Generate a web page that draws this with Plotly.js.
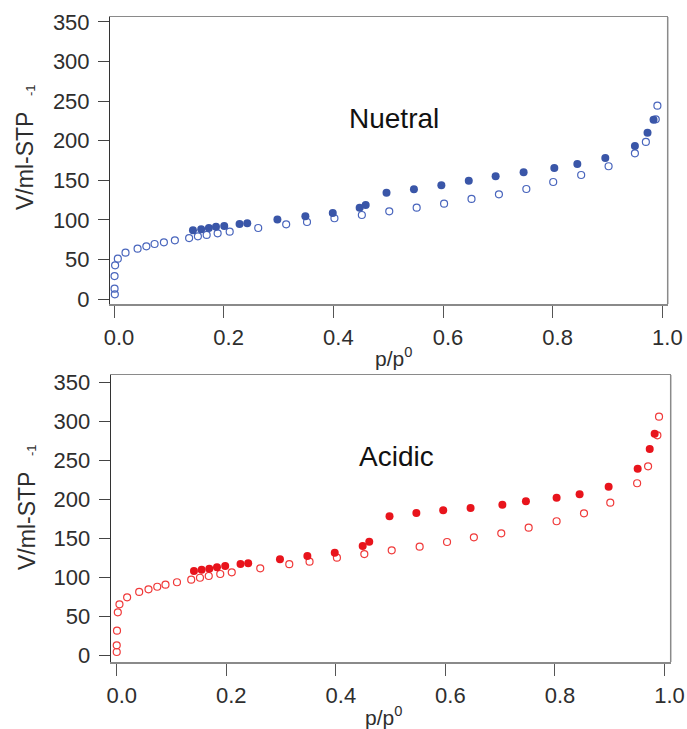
<!DOCTYPE html>
<html>
<head>
<meta charset="utf-8">
<script src="https://cdn.plot.ly/plotly-3.0.1.min.js"></script>
<style>html,body{margin:0;padding:0;background:#fff;}#chart{width:687px;height:729px;}</style>
</head>
<body>
<div id="chart"></div>
<script>
// ---- Data ----
var neutralAdsX = [0.0015, 0.001, 0.001, 0.002, 0.007, 0.021, 0.043, 0.059, 0.074, 0.091, 0.111, 0.137, 0.153, 0.169, 0.189, 0.211, 0.263,
  0.314, 0.352, 0.402, 0.452, 0.502, 0.552, 0.602, 0.652, 0.702, 0.752, 0.801, 0.852, 0.902, 0.950, 0.970, 0.988, 0.991];
var neutralAdsY = [5.9, 13.0, 29.0, 42.6, 51.0, 58.5, 63.6, 66.6, 69.5, 71.6, 74.1, 77.0, 79.2, 80.9, 83.0, 85.0, 89.7,
  94.4, 97.3, 102.0, 106.1, 110.8, 115.4, 120.4, 126.4, 132.3, 139.0, 147.8, 156.7, 167.7, 184.1, 198.4, 227.0, 244.3];
var neutralDesX = [0.144, 0.159, 0.173, 0.186, 0.201, 0.229, 0.243, 0.298, 0.349, 0.399, 0.448, 0.459, 0.497, 0.547, 0.597,
  0.647, 0.696, 0.747, 0.803, 0.845, 0.896, 0.950, 0.973, 0.984];
var neutralDesY = [86.8, 88.0, 89.7, 91.4, 92.2, 94.8, 95.6, 100.4, 104.5, 108.7, 115.4, 118.8, 134.3, 138.6, 143.7,
  149.5, 155.0, 160.1, 165.5, 170.6, 178.2, 193.3, 210.2, 226.6];

var acidicAdsX = [0.0, 0.0, 0.0005, 0.002, 0.005, 0.019, 0.041, 0.058, 0.074, 0.089, 0.110, 0.136, 0.152, 0.168, 0.189, 0.210, 0.262,
  0.315, 0.352, 0.402, 0.452, 0.502, 0.553, 0.603, 0.652, 0.702, 0.752, 0.803, 0.853, 0.901, 0.950, 0.970, 0.987, 0.990];
var acidicAdsY = [4.7, 13.3, 32.0, 55.5, 65.7, 74.7, 81.5, 84.9, 88.2, 90.8, 93.9, 97.2, 99.7, 101.9, 104.5, 106.6, 111.7,
  117.0, 120.2, 125.3, 130.0, 134.8, 139.4, 145.4, 151.4, 156.5, 163.7, 171.9, 182.1, 195.7, 220.5, 242.2, 281.8, 305.6];
var acidicDesX = [0.141, 0.155, 0.169, 0.183, 0.198, 0.226, 0.240, 0.298, 0.348, 0.398, 0.449, 0.461, 0.498, 0.547, 0.596,
  0.646, 0.704, 0.747, 0.803, 0.845, 0.898, 0.951, 0.973, 0.982];
var acidicDesY = [108.3, 110.0, 111.3, 113.0, 114.7, 117.3, 118.2, 123.3, 127.5, 131.7, 140.3, 145.8, 178.3, 182.5, 185.9,
  188.9, 193.1, 197.4, 202.0, 206.4, 216.1, 239.1, 264.3, 283.9];

var xTickVals = [0, 0.2, 0.4, 0.6, 0.8, 1.0];
var xTickText = ['0.0', '0.2', '0.4', '0.6', '0.8', '1.0'];
var yTickVals = [0, 50, 100, 150, 200, 250, 300, 350];
var yTickText = ['0', '50', '100', '150', '200', '250', '300', '350'];
var panelLabels = ['Nuetral', 'Acidic'];
var xTitle = 'p/p<sup>0</sup>';
var yTitle = 'V/ml-STP';
var yTitleSup = '-1';

// ---- Styling ----
var W = 687, H = 729;
var FONT = 'Liberation Sans, Arial, sans-serif';
var TXT = '#2e2e2e';
var blueFill = '#3a56a8', blueOpen = '#4a66bd';
var redFill = '#e8141c', redOpen = '#f03a3a';

function px(x) { return x / W; }
function py(y) { return 1 - y / H; }

var traces = [
  {x: neutralAdsX, y: neutralAdsY, xaxis: 'x', yaxis: 'y', mode: 'markers', type: 'scatter',
   marker: {symbol: 'circle-open', size: 7, color: blueOpen, line: {width: 1.2, color: blueOpen}}},
  {x: neutralDesX, y: neutralDesY, xaxis: 'x', yaxis: 'y', mode: 'markers', type: 'scatter',
   marker: {symbol: 'circle', size: 8, color: blueFill}},
  {x: acidicAdsX, y: acidicAdsY, xaxis: 'x2', yaxis: 'y2', mode: 'markers', type: 'scatter',
   marker: {symbol: 'circle-open', size: 7, color: redOpen, line: {width: 1.2, color: redOpen}}},
  {x: acidicDesX, y: acidicDesY, xaxis: 'x2', yaxis: 'y2', mode: 'markers', type: 'scatter',
   marker: {symbol: 'circle', size: 8, color: redFill}}
];

function xAxis(dom, range, anchor) {
  return {domain: dom, range: range, anchor: anchor, tickvals: xTickVals, ticktext: xTickText,
    ticks: 'outside', ticklen: 12, tickwidth: 1, tickcolor: '#555', showgrid: false, zeroline: false,
    showline: true, mirror: true, linecolor: '#8a8a8a', linewidth: 1.5, automargin: false,
    ticklabelshift: 5, ticklabelstandoff: 1,
    tickfont: {family: FONT, size: 22, color: TXT}, fixedrange: true};
}
function yAxis(dom, range, anchor) {
  return {domain: dom, range: range, anchor: anchor, tickvals: yTickVals, ticktext: yTickText,
    ticks: 'outside', ticklen: 11, tickwidth: 1, tickcolor: '#444', showgrid: false, zeroline: false,
    showline: true, mirror: false, linecolor: '#333', linewidth: 1, automargin: false,
    ticklabelstandoff: 4,
    tickfont: {family: FONT, size: 22, color: TXT}, fixedrange: true};
}

var layout = {
  width: W, height: H, margin: {l: 0, r: 0, t: 0, b: 0},
  paper_bgcolor: '#fff', plot_bgcolor: '#fff', showlegend: false,
  xaxis: xAxis([px(110), px(667.7)], [-0.0073, 1.0098], 'y'),
  yaxis: yAxis([py(304), py(17)], [-6.32, 356.3], 'x'),
  xaxis2: xAxis([px(110.7), px(670.7)], [-0.011, 1.0113], 'y2'),
  yaxis2: yAxis([py(662), py(375)], [-8.06, 358.95], 'x2'),
  shapes: [
    {type: 'line', xref: 'x domain', yref: 'y domain', x0: 1, x1: 1, y0: 0, y1: 1, line: {color: '#8a8a8a', width: 1.5}},
    {type: 'line', xref: 'x2 domain', yref: 'y2 domain', x0: 1, x1: 1, y0: 0, y1: 1, line: {color: '#8a8a8a', width: 1.5}}
  ],
  annotations: [
    {text: panelLabels[0], xref: 'paper', yref: 'paper', x: px(394), y: py(119), showarrow: false,
     xanchor: 'center', yanchor: 'middle', font: {family: FONT, size: 28, color: '#111'}},
    {text: panelLabels[1], xref: 'paper', yref: 'paper', x: px(396), y: py(456), showarrow: false,
     xanchor: 'center', yanchor: 'middle', font: {family: FONT, size: 28, color: '#111'}},
    {text: xTitle, xref: 'paper', yref: 'paper', x: px(393), y: py(357), showarrow: false,
     xanchor: 'center', yanchor: 'middle', font: {family: FONT, size: 21, color: TXT}},
    {text: xTitle, xref: 'paper', yref: 'paper', x: px(383), y: py(716), showarrow: false,
     xanchor: 'center', yanchor: 'middle', font: {family: FONT, size: 21, color: TXT}},
    {text: yTitle, xref: 'paper', yref: 'paper', x: px(25), y: py(161), showarrow: false, textangle: -90,
     xanchor: 'center', yanchor: 'middle', font: {family: FONT, size: 23, color: TXT}},
    {text: yTitleSup, xref: 'paper', yref: 'paper', x: px(30), y: py(90), showarrow: false, textangle: -90,
     xanchor: 'center', yanchor: 'middle', font: {family: FONT, size: 13, color: TXT}},
    {text: yTitle, xref: 'paper', yref: 'paper', x: px(27), y: py(521), showarrow: false, textangle: -90,
     xanchor: 'center', yanchor: 'middle', font: {family: FONT, size: 23, color: TXT}},
    {text: yTitleSup, xref: 'paper', yref: 'paper', x: px(31), y: py(450), showarrow: false, textangle: -90,
     xanchor: 'center', yanchor: 'middle', font: {family: FONT, size: 13, color: TXT}}
  ]
};

Plotly.newPlot('chart', traces, layout, {displayModeBar: false, staticPlot: true});
</script>
</body>
</html>
